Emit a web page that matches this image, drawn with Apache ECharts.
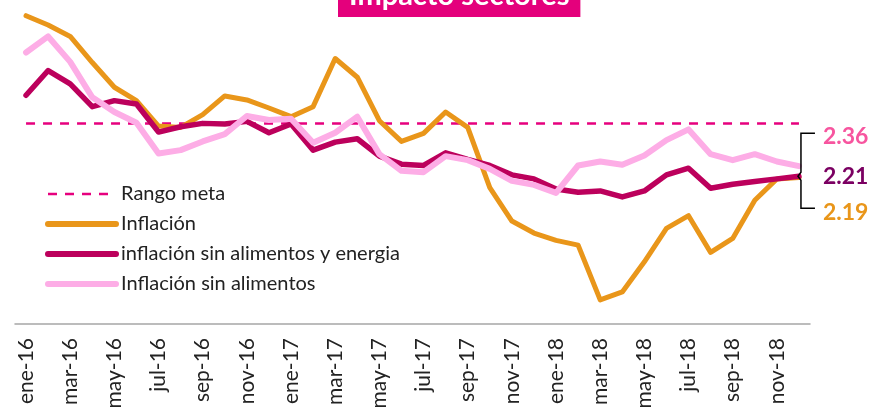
<!DOCTYPE html>
<html>
<head>
<meta charset="utf-8">
<script src="https://cdn.jsdelivr.net/npm/echarts@6/dist/echarts.min.js"></script>
<style>
  html, body { margin: 0; padding: 0; background: #fff; }
  #chart { width: 871px; height: 410px; }
</style>
</head>
<body>
<div id="chart"></div>
<script>
// months ene-16 .. dic-18
const months = [
  'ene-16', 'feb-16', 'mar-16', 'abr-16', 'may-16', 'jun-16', 'jul-16', 'ago-16', 'sep-16', 'oct-16', 'nov-16', 'dic-16',
  'ene-17', 'feb-17', 'mar-17', 'abr-17', 'may-17', 'jun-17', 'jul-17', 'ago-17', 'sep-17', 'oct-17', 'nov-17', 'dic-17',
  'ene-18', 'feb-18', 'mar-18', 'abr-18', 'may-18', 'jun-18', 'jul-18', 'ago-18', 'sep-18', 'oct-18', 'nov-18', 'dic-18'
];

const rangoMeta = [
  3, 3, 3, 3, 3, 3, 3, 3, 3, 3, 3, 3,
  3, 3, 3, 3, 3, 3, 3, 3, 3, 3, 3, 3,
  3, 3, 3, 3, 3, 3, 3, 3, 3, 3, 3, 3
];

const inflacion = [
  4.61, 4.47, 4.30, 3.91, 3.54, 3.34, 2.96, 2.94, 3.13, 3.41, 3.35, 3.23,
  3.10, 3.25, 3.97, 3.69, 3.04, 2.73, 2.85, 3.17, 2.94, 2.04, 1.54, 1.36,
  1.25, 1.18, 0.36, 0.48, 0.93, 1.43, 1.62, 1.07, 1.28, 1.85, 2.17, 2.19
];

const sinAlimEnergia = [
  3.42, 3.79, 3.59, 3.25, 3.34, 3.29, 2.87, 2.95, 3.00, 2.99, 3.03, 2.86,
  2.99, 2.60, 2.72, 2.77, 2.51, 2.39, 2.37, 2.56, 2.46, 2.37, 2.23, 2.17,
  2.02, 1.97, 1.99, 1.90, 1.99, 2.23, 2.33, 2.03, 2.09, 2.13, 2.17, 2.21
];

const sinAlimentos = [
  4.06, 4.30, 3.92, 3.39, 3.17, 3.01, 2.55, 2.60, 2.73, 2.84, 3.11, 3.05,
  3.07, 2.71, 2.86, 3.10, 2.54, 2.29, 2.27, 2.51, 2.45, 2.32, 2.14, 2.08,
  1.96, 2.37, 2.43, 2.38, 2.52, 2.75, 2.91, 2.54, 2.45, 2.54, 2.43, 2.36
];

const chart = echarts.init(document.getElementById('chart'));
const font = 'Lato';

const endLabel = (color, dy) => ({
  show: true,
  formatter: (p) => Number(p.value).toFixed(2),
  distance: 24,
  offset: [0, dy],
  color: color,
  fontFamily: font,
  fontSize: 23,
  fontWeight: 'bold'
});

const option = {
  animation: false,
  title: {
    text: 'Impacto sectores',
    left: 338,
    top: -19,
    padding: [0, 11, 6, 11],
    backgroundColor: '#E4007C',
    textStyle: {
      color: '#fff',
      fontFamily: font,
      fontSize: 29,
      fontWeight: 'bold',
      lineHeight: 30
    }
  },
  grid: { left: 15, right: 61, top: 3, bottom: 86, outerBoundsMode: 'none' },
  legend: {
    orient: 'vertical',
    left: 45,
    top: 184,
    padding: 0,
    itemWidth: 68,
    itemHeight: 14,
    itemGap: 10,
    selectedMode: false,
    textStyle: { fontFamily: font, fontSize: 20, lineHeight: 20, color: '#222' },
    data: [
      { name: 'Rango meta', itemStyle: { opacity: 0 }, lineStyle: { width: 2.5, type: [9, 8] } },
      { name: 'Inflación', itemStyle: { opacity: 0 }, lineStyle: { width: 6, cap: 'round' } },
      { name: 'inflación sin alimentos y energia', itemStyle: { opacity: 0 }, lineStyle: { width: 6, cap: 'round' } },
      { name: 'Inflación sin alimentos', itemStyle: { opacity: 0 }, lineStyle: { width: 6, cap: 'round' } }
    ]
  },
  xAxis: {
    type: 'category',
    data: months,
    boundaryGap: true,
    axisLine: { lineStyle: { color: '#A6A6A6', width: 1.5 } },
    axisTick: { interval: 1, length: 7, lineStyle: { color: '#A6A6A6', width: 1.5 } },
    axisLabel: { interval: 1, rotate: 90, margin: 14, fontFamily: font, fontSize: 21, color: '#222' }
  },
  yAxis: { type: 'value', min: 0, max: 4.8, show: false },
  series: [
    {
      name: 'Rango meta', type: 'line', data: rangoMeta, symbol: 'none',
      lineStyle: { color: '#E6007E', width: 2.5, type: [9, 8] },
      itemStyle: { color: '#E6007E' }
    },
    {
      name: 'Inflación', type: 'line', data: inflacion, symbol: 'none',
      lineStyle: { color: '#E9961A', width: 5, join: 'round', cap: 'round' },
      itemStyle: { color: '#E9961A' },
      endLabel: endLabel('#E9961A', 35)
    },
    {
      name: 'inflación sin alimentos y energia', type: 'line', data: sinAlimEnergia, symbol: 'none',
      lineStyle: { color: '#BC005C', width: 5.5, join: 'round', cap: 'round' },
      itemStyle: { color: '#BC005C' },
      endLabel: endLabel('#7B0062', 0)
    },
    {
      name: 'Inflación sin alimentos', type: 'line', data: sinAlimentos, symbol: 'none',
      lineStyle: { color: '#FDADE6', width: 6, join: 'round', cap: 'round' },
      itemStyle: { color: '#FDADE6' },
      endLabel: endLabel('#F7559F', -30)
    }
  ]
};

chart.setOption(option);

// brace next to the final values
const last = months.length - 1;
const [bx, by] = chart.convertToPixel({ gridIndex: 0 }, [last, sinAlimEnergia[last]]);
chart.setOption({
  graphic: [{
    type: 'polyline',
    shape: {
      points: [
        [bx + 16, by - 43], [bx + 2, by - 43], [bx + 2, by - 4], [bx - 1, by],
        [bx + 2, by + 4], [bx + 2, by + 32], [bx + 16, by + 32]
      ]
    },
    style: { stroke: '#000', lineWidth: 1.5, fill: null },
    z: 10
  }]
});
</script>
</body>
</html>
